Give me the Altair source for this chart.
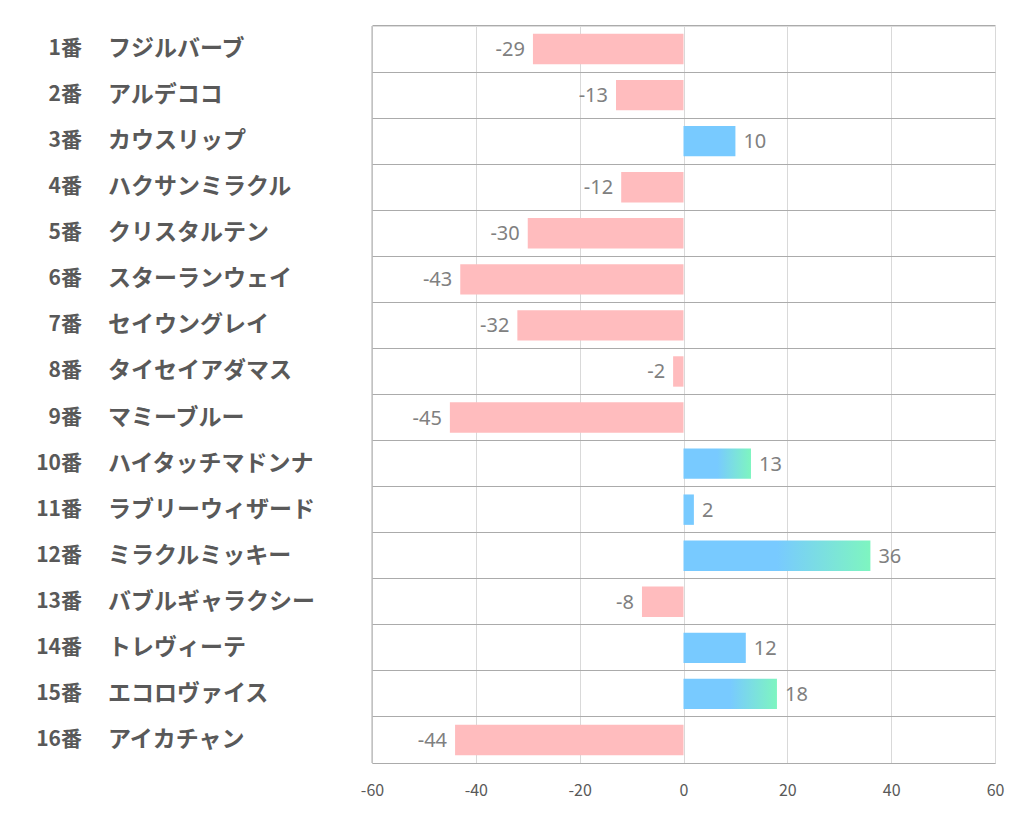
import altair as alt
import pandas as pd

nums = [f"{i}番" for i in range(1, 17)]
names = ["フジルバーブ", "アルデココ", "カウスリップ", "ハクサンミラクル", "クリスタルテン",
         "スターランウェイ", "セイウングレイ", "タイセイアダマス", "マミーブルー",
         "ハイタッチマドンナ", "ラブリーウィザード", "ミラクルミッキー", "バブルギャラクシー",
         "トレヴィーテ", "エコロヴァイス", "アイカチャン"]
values = [-29, -13, 10, -12, -30, -43, -32, -2, -45, 13, 2, 36, -8, 12, 18, -44]
gradient_flags = [0, 0, 0, 0, 0, 0, 0, 0, 0, 1, 0, 1, 0, 0, 1, 0]

kinds = []
for v, g in zip(values, gradient_flags):
    if v < 0:
        kinds.append("neg")
    elif g:
        kinds.append("grad")
    else:
        kinds.append("pos")

df = pd.DataFrame({"num": nums, "name": names, "value": values, "kind": kinds})
df["key"] = df["num"] + df["name"]
df["vlabel"] = [str(v) for v in values]
order = list(df["key"])

W, H = 623, 737
PINK = "#FFBCBE"
BLUE = "#78CAFF"
GREEN = "#7EF5C0"
P_IN = 0.34
BAND_POS = -(P_IN / 2) / (1 - P_IN)

y_scale = alt.Scale(domain=order, paddingInner=P_IN, paddingOuter=P_IN / 2)
y_enc = alt.Y("key:N", sort=order, scale=y_scale,
              axis=alt.Axis(title=None, labels=False, ticks=False, domain=False,
                            grid=True, bandPosition=BAND_POS, gridColor="#ababab", gridWidth=1))
x_scale = alt.Scale(domain=[-60, 60], nice=False)
x_enc = alt.X("value:Q", scale=x_scale,
              axis=alt.Axis(title=None, values=[-60, -40, -20, 0, 20, 40, 60], ticks=False,
                            domain=True, domainColor="#ababab", gridColor="#d9d9d9",
                            labelFont="Noto Sans CJK JP", labelFontSize=16, labelColor="#595959",
                            labelPadding=19, labelFlush=False, labelOverlap=False,
                            labelExpr="'' + datum.value"))

base = alt.Chart(df)

neg = base.transform_filter(alt.datum.kind == "neg").mark_bar(color=PINK).encode(y=y_enc, x=x_enc)
pos = base.transform_filter(alt.datum.kind == "pos").mark_bar(color=BLUE).encode(y=y_enc, x=x_enc)
grad = base.transform_filter(alt.datum.kind == "grad").mark_bar(
    color=alt.Gradient(gradient="linear",
                       stops=[alt.GradientStop(color=BLUE, offset=0),
                              alt.GradientStop(color=BLUE, offset=0.5),
                              alt.GradientStop(color=GREEN, offset=1)],
                       x1=0, x2=1, y1=0, y2=0)
).encode(y=y_enc, x=x_enc)

txt_neg = base.transform_filter(alt.datum.value < 0).mark_text(
    align="right", baseline="middle", dx=-8, dy=1, font="Noto Sans", fontSize=20, color="#808080"
).encode(y=y_enc, x=x_enc, text="vlabel:N")
txt_pos = base.transform_filter(alt.datum.value >= 0).mark_text(
    align="left", baseline="middle", dx=8, dy=1, font="Noto Sans", fontSize=20, color="#808080"
).encode(y=y_enc, x=x_enc, text="vlabel:N")

lab_num = base.mark_text(align="right", baseline="middle", font="Noto Sans CJK JP",
                         fontWeight="bold", fontSize=21, color="#595959").encode(
    y=y_enc, x=alt.value(82 - 372), text="num:N")
lab_name = base.mark_text(align="left", baseline="middle", font="Noto Sans CJK JP",
                          fontWeight="bold", fontSize=23, color="#595959").encode(
    y=y_enc, x=alt.value(108 - 372), text="name:N")

left_border = alt.Chart(pd.DataFrame({"value": [-60]})).mark_rule(color="#ababab").encode(
    x=x_enc)

chart = alt.layer(neg, pos, grad, left_border, txt_neg, txt_pos, lab_num, lab_name).properties(
    width=W, height=H,
    autosize=alt.AutoSizeParams(type="none"),
    padding={"left": 364, "top": 18, "right": 19, "bottom": 63},
).configure_view(stroke=None).configure(background="white")

chart.save("out.html", embed_options={"renderer": "svg", "actions": False})
